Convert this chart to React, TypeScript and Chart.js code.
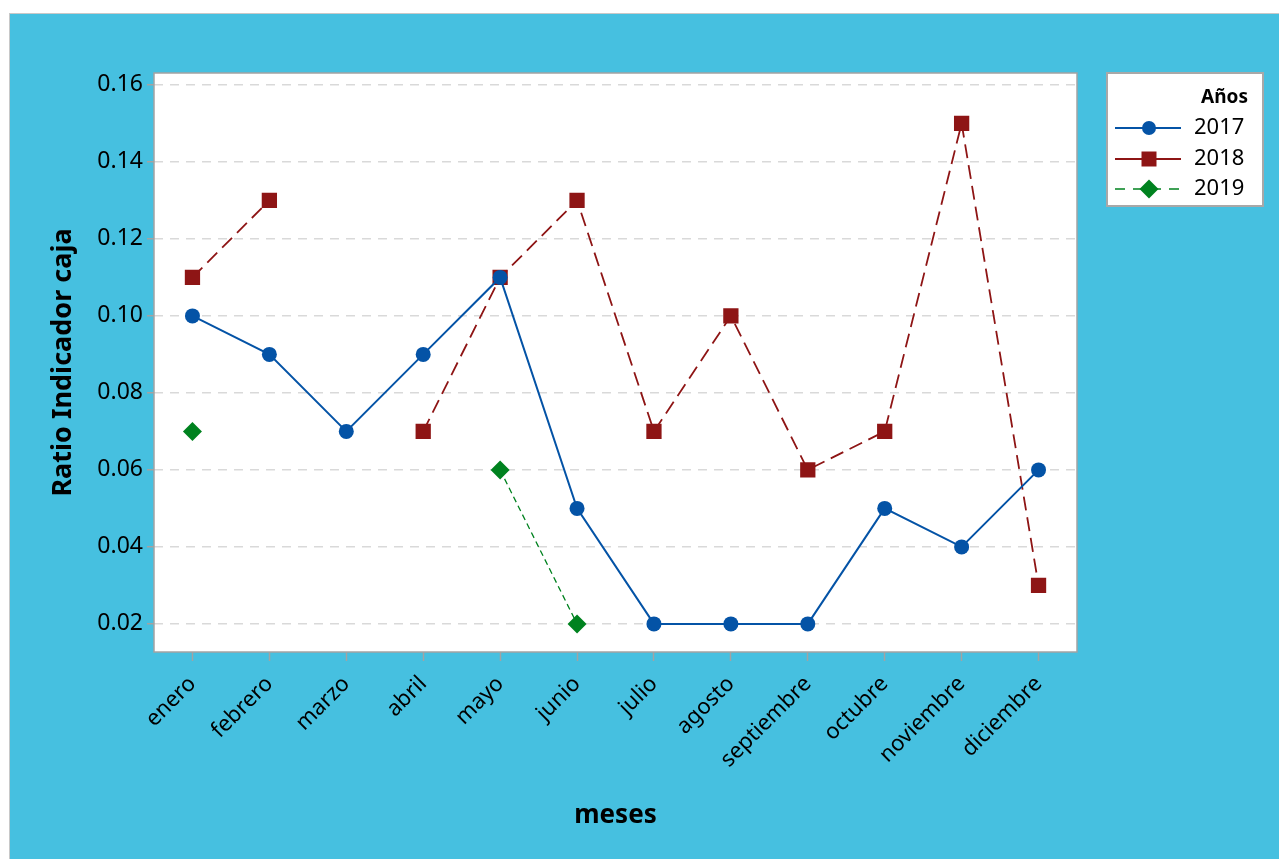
import React, { useEffect, useRef } from "react";
import { Chart, registerables } from "chart.js";

Chart.register(...registerables);

const months = ["enero", "febrero", "marzo", "abril", "mayo", "junio", "julio", "agosto", "septiembre", "octubre", "noviembre", "diciembre"];
const y2017 = [0.10, 0.09, 0.07, 0.09, 0.11, 0.05, 0.02, 0.02, 0.02, 0.05, 0.04, 0.06];
const y2018 = [0.11, 0.13, null, 0.07, 0.11, 0.13, 0.07, 0.10, 0.06, 0.07, 0.15, 0.03];
const y2019 = [0.07, null, null, null, 0.06, 0.02, null, null, null, null, null, null];
const yTicks = [0.02, 0.04, 0.06, 0.08, 0.10, 0.12, 0.14, 0.16];
const seriesNames = ["2017", "2018", "2019"];
const legendTitle = "Años";

const FONT = "'Noto Sans', 'Open Sans', sans-serif";
const BLUE = "#0453A6";
const RED = "#8E1515";
const GREEN = "#00821F";

const W = 1269;
const H = 845;

const plotFramePlugin = {
  id: "plotFrame",
  beforeDraw(chart: any) {
    const { ctx, chartArea } = chart;
    ctx.save();
    ctx.fillStyle = "#ffffff";
    ctx.fillRect(chartArea.left, chartArea.top, chartArea.right - chartArea.left, chartArea.bottom - chartArea.top);
    ctx.restore();
  },
  afterDraw(chart: any) {
    const { ctx, chartArea } = chart;
    ctx.save();
    ctx.strokeStyle = "#a3a3a3";
    ctx.lineWidth = 1.5;
    ctx.strokeRect(chartArea.left, chartArea.top, chartArea.right - chartArea.left, chartArea.bottom - chartArea.top);

    // legend
    const lx = 1097, ly = 59, lw = 156, lh = 133;
    ctx.fillStyle = "#ffffff";
    ctx.fillRect(lx, ly, lw, lh);
    ctx.strokeStyle = "#a8a8a8";
    ctx.lineWidth = 2;
    ctx.strokeRect(lx, ly, lw, lh);
    ctx.fillStyle = "#000";
    ctx.font = `bold 19px ${FONT}`;
    ctx.textAlign = "right";
    ctx.textBaseline = "middle";
    ctx.fillText(legendTitle, 1238, 84);
    const rows = [114, 145, 175];
    chart.data.datasets.forEach((ds: any, i: number) => {
      const y = rows[i];
      ctx.save();
      ctx.strokeStyle = ds.borderColor;
      ctx.lineWidth = ds.borderWidth;
      ctx.setLineDash(ds.legendDash || []);
      ctx.beginPath();
      ctx.moveTo(1105, y);
      ctx.lineTo(1171, y);
      ctx.stroke();
      ctx.restore();
      ctx.fillStyle = ds.pointBackgroundColor;
      const cx = 1139;
      ctx.beginPath();
      if (ds.pointStyle === "circle") {
        ctx.arc(cx, y, 7, 0, Math.PI * 2);
      } else if (ds.pointStyle === "rect") {
        ctx.rect(cx - 7.5, y - 7.5, 15, 15);
      } else {
        ctx.moveTo(cx, y - 9.5);
        ctx.lineTo(cx + 9.5, y);
        ctx.lineTo(cx, y + 9.5);
        ctx.lineTo(cx - 9.5, y);
        ctx.closePath();
      }
      ctx.fill();
      ctx.fillStyle = "#000";
      ctx.font = `22px ${FONT}`;
      ctx.textAlign = "left";
      ctx.fillText(ds.label, 1184, y);
    });
    ctx.restore();
  },
};

export default function App() {
  const ref = useRef<HTMLCanvasElement | null>(null);

  useEffect(() => {
    if (!ref.current) return;
    const chart = new Chart(ref.current, {
      type: "line",
      data: {
        labels: months,
        datasets: [
          {
            label: seriesNames[0],
            data: y2017,
            borderColor: BLUE,
            backgroundColor: BLUE,
            pointBackgroundColor: BLUE,
            pointBorderColor: BLUE,
            borderWidth: 2,
            pointStyle: "circle",
            pointRadius: 7.5,
            pointBorderWidth: 0,
            spanGaps: false,
            legendDash: [],
          },
          {
            label: seriesNames[1],
            data: y2018,
            borderColor: RED,
            backgroundColor: RED,
            pointBackgroundColor: RED,
            pointBorderColor: RED,
            borderWidth: 1.8,
            borderDash: [14, 7],
            pointStyle: "rect",
            pointRadius: 10.8,
            pointBorderWidth: 0,
            spanGaps: false,
            legendDash: [],
          },
          {
            label: seriesNames[2],
            data: y2019,
            borderColor: GREEN,
            backgroundColor: GREEN,
            pointBackgroundColor: GREEN,
            pointBorderColor: GREEN,
            borderWidth: 1.3,
            borderDash: [6, 4],
            pointStyle: "rectRot",
            pointRadius: 9.5,
            pointBorderWidth: 0,
            spanGaps: false,
            legendDash: [10, 8],
          },
        ] as any,
      },
      options: {
        responsive: false,
        animation: false,
        events: [],
        layout: { padding: { top: 59, right: 202, left: 0, bottom: 0 } },
        plugins: {
          legend: { display: false },
          tooltip: { enabled: false },
        },
        scales: {
          x: {
            type: "category",
            offset: true,
            grid: {
              drawOnChartArea: false,
              drawTicks: true,
              tickLength: 9,
              tickColor: "#a3a3a3",
              tickWidth: 1.5,
              offset: false,
            },
            border: { display: false },
            ticks: {
              color: "#000",
              font: { family: FONT, size: 22 },
              minRotation: 45,
              maxRotation: 45,
              autoSkip: false,
              padding: 10,
            },
            title: {
              display: true,
              text: "meses",
              color: "#000",
              font: { family: FONT, size: 26, weight: "bold" },
              padding: { top: 0, bottom: 28 },
            },
            afterFit(scale: any) {
              scale.height = 207;
            },
          },
          y: {
            type: "linear",
            min: 0.0127,
            max: 0.1631,
            afterBuildTicks(scale: any) {
              scale.ticks = yTicks.map((v) => ({ value: v }));
            },
            grid: {
              color: "#d9d9d9",
              lineWidth: 1.5,
              drawTicks: true,
              tickLength: 7,
              tickColor: "#a3a3a3",
              tickWidth: 1.5,
              tickBorderDash: [],
            },
            border: { display: false, dash: [9, 7] },
            ticks: {
              color: "#000",
              font: { family: FONT, size: 23 },
              padding: 4,
              callback: (v: any) => Number(v).toFixed(2),
            },
            title: {
              display: true,
              text: "Ratio Indicador caja",
              color: "#000",
              font: { family: FONT, size: 27, weight: "bold" },
              padding: { top: 37, bottom: 0 },
            },
            afterFit(scale: any) {
              scale.width = 144;
            },
          },
        },
      } as any,
      plugins: [plotFramePlugin],
    });
    return () => chart.destroy();
  }, []);

  return (
    <div
      style={{
        position: "absolute",
        left: 9,
        top: 13,
        width: W + 1,
        height: H + 1,
        background: "#46C0E0",
        borderTop: "1px solid #c8c8c8",
        borderLeft: "1px solid #c8c8c8",
        boxSizing: "border-box",
        overflow: "hidden",
      }}
    >
      <canvas ref={ref} width={W} height={H} style={{ display: "block", width: W, height: H }} />
    </div>
  );
}
